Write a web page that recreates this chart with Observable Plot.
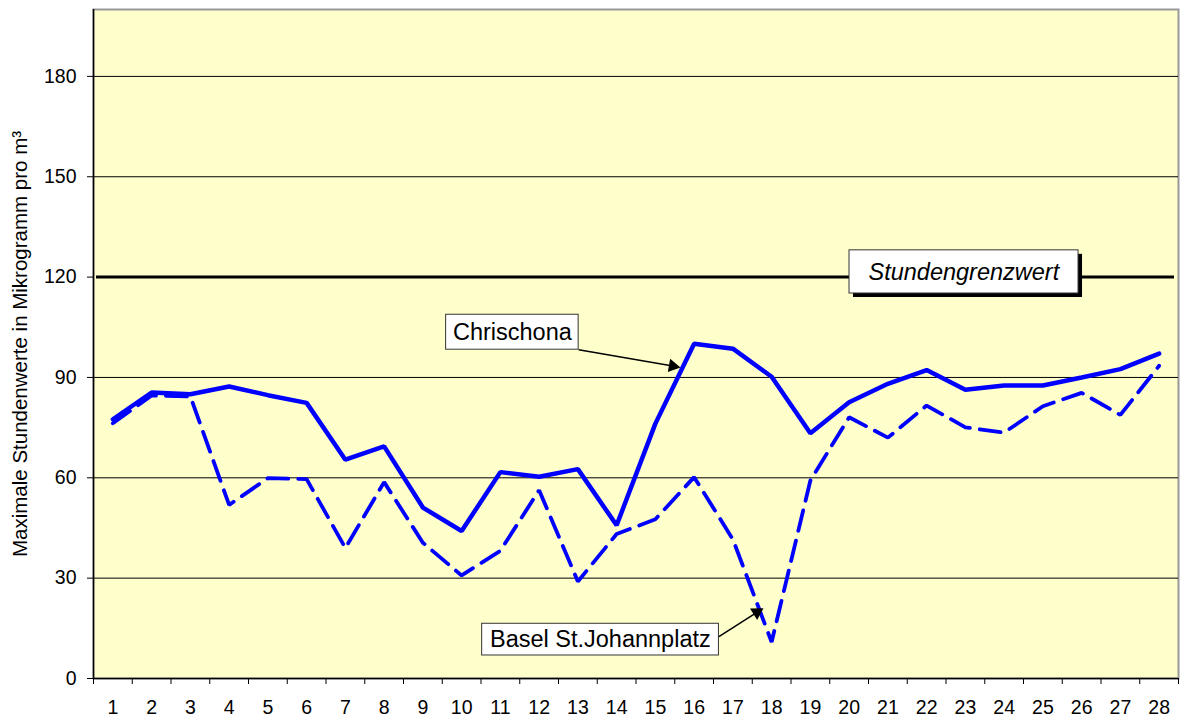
<!DOCTYPE html>
<html>
<head>
<meta charset="utf-8">
<script src="https://cdn.jsdelivr.net/npm/d3@7"></script>
<script src="https://cdn.jsdelivr.net/npm/@observablehq/plot@0.6"></script>
<style>
  html, body { margin: 0; padding: 0; background: #fff; }
  svg { display: block; }
</style>
</head>
<body>
<div id="chart"></div>
<script>
// Days / categories
const days = d3.range(1, 29);
// Series values (µg/m³, max hourly values)
const chrischona = [77.5, 85.5, 85, 87.3, 84.7, 82.4, 65.4, 69.4, 51.1, 44.1, 61.7, 60.3, 62.6, 45.8, 76.2, 100.1, 98.6, 90.2, 73.3, 82.6, 88.1, 92.2, 86.3, 87.6, 87.6, 90, 92.5, 97.1];
const johannplatz = [76.3, 84.6, 84.3, 51.9, 59.9, 59.6, 39, 58.7, 40.6, 30.8, 38.2, 56.3, 29, 43.2, 47.6, 60.2, 41.6, 10.9, 59.2, 78.1, 72, 81.6, 75.1, 73.5, 81.4, 85.4, 78.8, 93.5];
// Tick labels
const yTicks = [0, 30, 60, 90, 120, 150, 180];
const gridValues = [30, 60, 90, 150, 180];
const limitValue = 120;
const limitLabel = "Stundengrenzwert";
const seriesNames = ["Chrischona", "Basel St.Johannplatz"];
const yLabel = "Maximale Stundenwerte in Mikrogramm pro m³";

const dataC = days.map((d, i) => ({day: d, value: chrischona[i]}));
const dataJ = days.map((d, i) => ({day: d, value: johannplatz[i]}));

const font = "'Liberation Sans', Arial, sans-serif";

// annotation pointers: label box edge -> target on line
const pointers = [
  {x1: 13.02, y1: 98.3, x2: 15.45, y2: 93.4, rot: 100},
  {x1: 16.64, y1: 12.5, x2: 17.62, y2: 19.8, rot: 58}
];

const chart = Plot.plot({
  width: 1184,
  height: 719,
  marginLeft: 93,
  marginRight: 6,
  marginTop: 9,
  marginBottom: 41,
  style: {fontFamily: font, background: "#fff", color: "#000", overflow: "visible"},
  x: {type: "linear", domain: [0.5, 28.5]},
  y: {domain: [0, 200]},
  marks: [
    Plot.frame({fill: "#FFFFCC", stroke: "#999", strokeWidth: 2}),
    Plot.ruleY(gridValues, {stroke: "#000", strokeWidth: 1}),
    Plot.ruleY([limitValue], {stroke: "#000", strokeWidth: 3, insetLeft: 3, insetRight: 4}),
    // axis lines
    Plot.ruleY([0], {stroke: "#000", strokeWidth: 1.5}),
    Plot.ruleX([0.5], {stroke: "#000", strokeWidth: 1.5}),
    Plot.axisY({ticks: yTicks, tickSize: 6, tickPadding: 11, fontSize: 19.5, label: null}),
    Plot.axisY({ticks: [], tickSize: 0, fontSize: 20.5, label: yLabel, labelAnchor: "center", labelArrow: "none", labelOffset: 81}),
    Plot.axisX({ticks: d3.range(0.5, 29, 1), tickSize: 6, tickFormat: () => "", label: null}),
    Plot.axisX({ticks: days, tickSize: 0, tickPadding: 22, fontSize: 19.5, label: null, tickFormat: d3.format("d")}),
    // series
    Plot.line(dataJ, {x: "day", y: "value", stroke: "#0000FF", strokeWidth: 3.8, strokeDasharray: "21,10", strokeLinejoin: "miter"}),
    Plot.line(dataC, {x: "day", y: "value", stroke: "#0000FF", strokeWidth: 4.5, strokeLinejoin: "miter"}),
    // Stundengrenzwert label box
    Plot.rect([0], {x1: 20.01, x2: 25.92, y1: 115.1, y2: 128.0, fill: "#000", dx: 4, dy: 4}),
    Plot.rect([0], {x1: 20.01, x2: 25.92, y1: 115.1, y2: 128.0, fill: "#fff", stroke: "#333", strokeWidth: 1}),
    Plot.text([limitLabel], {x: 22.96, y: 121.5, text: d => d, fontSize: 23.5, fontStyle: "italic", fill: "#000"}),
    // Chrischona label
    Plot.rect([0], {x1: 9.6, x2: 13.02, y1: 98.3, y2: 108.75, fill: "#fff", stroke: "#333", strokeWidth: 1}),
    Plot.text([seriesNames[0]], {x: 11.31, y: 103.5, text: d => d, fontSize: 23.5, fill: "#000"}),
    // Basel label
    Plot.rect([0], {x1: 10.53, x2: 16.64, y1: 6.88, y2: 16.36, fill: "#fff", stroke: "#333", strokeWidth: 1}),
    Plot.text([seriesNames[1]], {x: 13.58, y: 11.6, text: d => d, fontSize: 23.5, fill: "#000"}),
    // pointer lines with filled heads
    Plot.link(pointers, {x1: "x1", y1: "y1", x2: "x2", y2: "y2", stroke: "#000", strokeWidth: 1.5}),
    Plot.dot(pointers, {x: "x2", y: "y2", symbol: "triangle", r: 5, rotate: "rot", fill: "#000", stroke: "none"})
  ]
});
document.getElementById("chart").appendChild(chart);
</script>
</body>
</html>
